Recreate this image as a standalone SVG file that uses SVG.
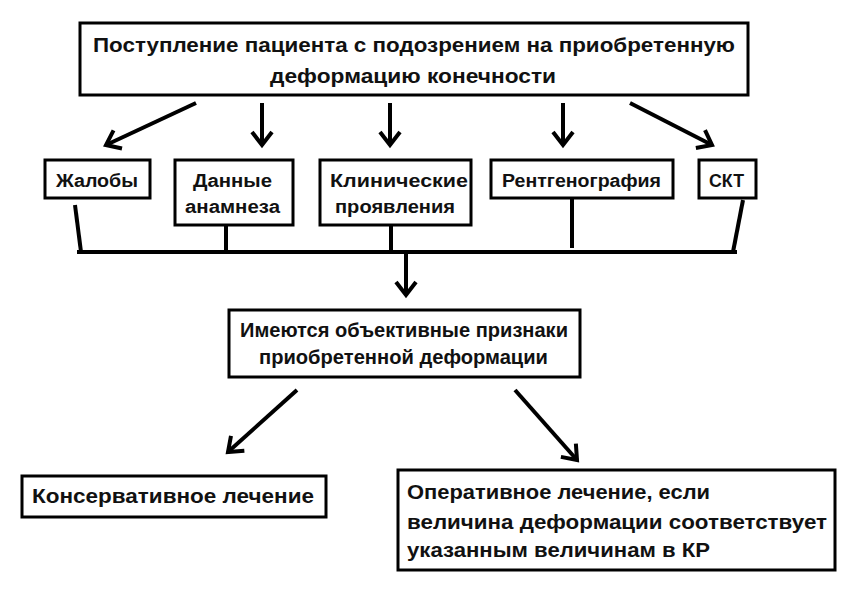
<svg xmlns="http://www.w3.org/2000/svg" width="859" height="606" viewBox="0 0 859 606">
<style>
.box{fill:#fff;stroke:#000;stroke-width:3}
.t{font-family:"Liberation Sans",Arial,sans-serif;font-weight:bold;fill:#111}
.l{stroke:#000;stroke-width:4;fill:none}
.a{stroke:#000;stroke-width:4;fill:none;marker-end:url(#ah)}
</style>
<defs>
<marker id="ah" markerUnits="userSpaceOnUse" viewBox="-16 -12 20 24" refX="0" refY="0" markerWidth="20" markerHeight="24" orient="auto" overflow="visible">
<path d="M-13 -10 L0 0 L-13 10" fill="none" stroke="#000" stroke-width="4" stroke-linejoin="miter"/>
</marker>
</defs>
<rect width="859" height="606" fill="#fff"/>
<g id="n-start">
<rect class="box" x="80" y="23" width="668" height="72"/>
<text class="t" x="93" y="52" font-size="21" textLength="642" lengthAdjust="spacingAndGlyphs">Поступление пациента с подозрением на приобретенную</text>
<text class="t" x="270" y="83" font-size="21" textLength="286" lengthAdjust="spacingAndGlyphs">деформацию конечности</text>
</g>
<g id="n-complaints">
<rect class="box" x="45" y="160" width="105" height="38"/>
<text class="t" x="56" y="187" font-size="18" textLength="82" lengthAdjust="spacingAndGlyphs">Жалобы</text>
</g>
<g id="n-anamnesis">
<rect class="box" x="175" y="160" width="118" height="65"/>
<text class="t" x="193" y="187" font-size="18" textLength="79" lengthAdjust="spacingAndGlyphs">Данные</text>
<text class="t" x="185" y="213" font-size="18" textLength="95" lengthAdjust="spacingAndGlyphs">анамнеза</text>
</g>
<g id="n-clinical">
<rect class="box" x="320" y="160" width="151" height="65"/>
<text class="t" x="330" y="187" font-size="18" textLength="138" lengthAdjust="spacingAndGlyphs">Клинические</text>
<text class="t" x="335" y="213" font-size="18" textLength="120" lengthAdjust="spacingAndGlyphs">проявления</text>
</g>
<g id="n-xray">
<rect class="box" x="491" y="160" width="182" height="38"/>
<text class="t" x="502" y="187" font-size="18" textLength="159" lengthAdjust="spacingAndGlyphs">Рентгенография</text>
</g>
<g id="n-ct">
<rect class="box" x="699" y="160" width="57" height="38"/>
<text class="t" x="709" y="187" font-size="18" textLength="35" lengthAdjust="spacingAndGlyphs">СКТ</text>
</g>
<g id="n-signs">
<rect class="box" x="229" y="310" width="351" height="67"/>
<text class="t" x="240" y="337" font-size="20" textLength="328" lengthAdjust="spacingAndGlyphs">Имеются объективные признаки</text>
<text class="t" x="259" y="364" font-size="20" textLength="289" lengthAdjust="spacingAndGlyphs">приобретенной деформации</text>
</g>
<g id="n-conservative">
<rect class="box" x="22" y="476" width="304" height="41"/>
<text class="t" x="32" y="503" font-size="20" textLength="282" lengthAdjust="spacingAndGlyphs">Консервативное лечение</text>
</g>
<g id="n-operative">
<rect class="box" x="398" y="470" width="437" height="100"/>
<text class="t" x="407" y="499" font-size="20" textLength="303" lengthAdjust="spacingAndGlyphs">Оперативное лечение, если</text>
<text class="t" x="407" y="529" font-size="20" textLength="420" lengthAdjust="spacingAndGlyphs">величина деформации соответствует</text>
<text class="t" x="407" y="557" font-size="20" textLength="303" lengthAdjust="spacingAndGlyphs">указанным величинам в КР</text>
</g>
<g id="connectors">
<line class="a" x1="196" y1="103" x2="106" y2="145"/>
<line class="a" x1="262" y1="103" x2="262" y2="145"/>
<line class="a" x1="390" y1="103" x2="390" y2="145"/>
<line class="a" x1="563" y1="103" x2="563" y2="145"/>
<line class="a" x1="630" y1="103" x2="712" y2="145"/>
<line class="l" x1="75" y1="205" x2="81" y2="252"/>
<line class="l" x1="226" y1="225" x2="226" y2="252"/>
<line class="l" x1="391" y1="225" x2="391" y2="252"/>
<line class="l" x1="572" y1="198" x2="572" y2="248"/>
<line class="l" x1="743" y1="200" x2="733" y2="252"/>
<line class="l" x1="77" y1="252" x2="737" y2="252"/>
<line class="a" x1="406" y1="252" x2="406" y2="295"/>
<line class="a" x1="297" y1="390" x2="228" y2="452"/>
<line class="a" x1="515" y1="390" x2="577" y2="460"/>
</g>
</svg>
